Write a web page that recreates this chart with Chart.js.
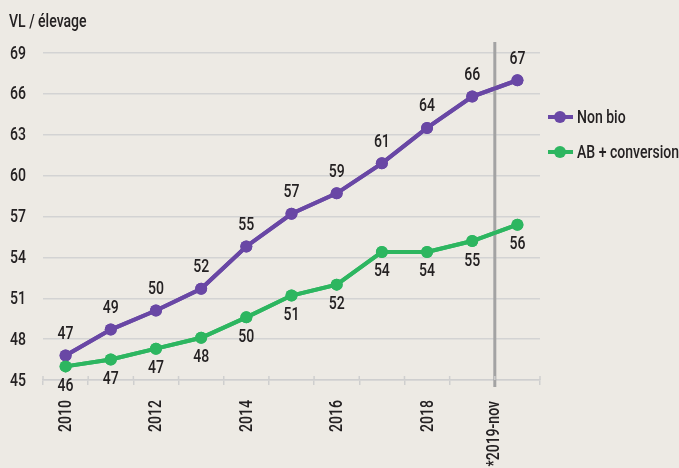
<!DOCTYPE html>
<html>
<head>
<meta charset="utf-8">
<script src="https://cdn.jsdelivr.net/npm/chart.js@4"></script>
<style>
  html, body { margin: 0; padding: 0; background: #edeae4; }
  #wrap { width: 679px; height: 468px; }
</style>
</head>
<body>
<div id="wrap"><canvas id="vlChart" width="679" height="468"></canvas></div>
<script>
// Data
const years = ['2010', '2011', '2012', '2013', '2014', '2015', '2016', '2017', '2018', '2019', '*2019-nov'];
const nonBio = [46.8, 48.7, 50.1, 51.7, 54.8, 57.2, 58.7, 60.9, 63.5, 65.8, 67.0];
const abConv = [46.0, 46.5, 47.3, 48.1, 49.6, 51.2, 52.0, 54.4, 54.4, 55.2, 56.4];
const nonBioLabels = ['47', '49', '50', '52', '55', '57', '59', '61', '64', '66', '67'];
const abConvLabels = ['46', '47', '47', '48', '50', '51', '52', '54', '54', '55', '56'];
const yTicks = [45, 48, 51, 54, 57, 60, 63, 66, 69];

const FONT = "500 18px Roboto, 'DejaVu Sans', sans-serif";
const SQUEEZE = 0.78; // no condensed face installed, so squeeze the text
const TEXT = '#242122';
const PURPLE = '#6947a5';
const GREEN = '#2db660';

// condensed-looking text
function condText(ctx, str, x, y, align, angle) {
    ctx.save();
    ctx.translate(x, y);
    if (angle) ctx.rotate(angle);
    ctx.scale(SQUEEZE, 1);
    ctx.font = FONT;
    ctx.fillStyle = TEXT;
    ctx.textAlign = align;
    ctx.textBaseline = 'middle';
    ctx.fillText(str, 0, 0);
    ctx.restore();
}

const decorPlugin = {
    id: 'decor',
    beforeDraw(chart) {
        const ctx = chart.ctx;
        ctx.save();
        ctx.fillStyle = '#edeae4';
        ctx.fillRect(0, 0, chart.width, chart.height);
        ctx.restore();
    },
    afterDatasetsDraw(chart) {
        const ctx = chart.ctx;
        const x = chart.scales.x;
        const y = chart.scales.y;
        const area = chart.chartArea;

        // vertical separator before the last category
        const sepX = (x.getPixelForValue(9) + x.getPixelForValue(10)) / 2;
        ctx.save();
        ctx.strokeStyle = '#a3a3a3';
        ctx.lineWidth = 3;
        ctx.beginPath();
        ctx.moveTo(sepX, area.top - 11);
        ctx.lineTo(sepX, area.bottom + 7);
        ctx.stroke();
        ctx.restore();

        // small ticks above the x axis line
        ctx.save();
        ctx.strokeStyle = '#cfcfcf';
        ctx.lineWidth = 1.5;
        for (let i = 0; i <= years.length; i++) {
            const px = x.getPixelForValue(i - 0.5);
            ctx.beginPath();
            ctx.moveTo(px, area.bottom - 4);
            ctx.lineTo(px, area.bottom);
            ctx.stroke();
        }
        ctx.restore();

        // redraw lines on top of the separator
        chart.getSortedVisibleDatasetMetas().forEach(m => m.controller.draw());

        // value labels
        chart.getDatasetMeta(0).data.forEach((pt, i) =>
            condText(ctx, nonBioLabels[i], pt.x, pt.y - 21, 'center'));
        chart.getDatasetMeta(1).data.forEach((pt, i) =>
            condText(ctx, abConvLabels[i], pt.x, pt.y + 20, 'center'));

        // title
        condText(ctx, 'VL / élevage', 9, 22, 'left');

        // y tick labels
        yTicks.forEach(v => condText(ctx, String(v), 26, y.getPixelForValue(v) + 1, 'right'));

        // x tick labels, rotated
        years.forEach((lab, i) => {
            if (i % 2 === 0 && i < 10) {
                condText(ctx, lab, x.getPixelForValue(i) + 1, area.bottom + 20, 'right', -Math.PI / 2);
            }
        });
        condText(ctx, years[10], sepX, area.bottom + 21, 'right', -Math.PI / 2);

        // legend
        const items = [
            { text: 'Non bio', color: PURPLE, y: 117 },
            { text: 'AB + conversion', color: GREEN, y: 152 }
        ];
        items.forEach(it => {
            ctx.save();
            ctx.strokeStyle = it.color;
            ctx.lineWidth = 4;
            ctx.beginPath();
            ctx.moveTo(548, it.y);
            ctx.lineTo(573, it.y);
            ctx.stroke();
            ctx.fillStyle = it.color;
            ctx.beginPath();
            ctx.arc(560, it.y, 6, 0, Math.PI * 2);
            ctx.fill();
            ctx.restore();
            condText(ctx, it.text, 577, it.y + 1, 'left');
        });
    }
};

new Chart(document.getElementById('vlChart').getContext('2d'), {
    type: 'line',
    data: {
        labels: years,
        datasets: [{
            label: 'Non bio',
            data: nonBio,
            borderColor: PURPLE,
            backgroundColor: PURPLE,
            borderWidth: 4,
            pointRadius: 6,
            pointBorderWidth: 0,
            tension: 0
        }, {
            label: 'AB + conversion',
            data: abConv,
            borderColor: GREEN,
            backgroundColor: GREEN,
            borderWidth: 4,
            pointRadius: 6,
            pointBorderWidth: 0,
            tension: 0
        }]
    },
    options: {
        responsive: false,
        animation: false,
        layout: { padding: { top: 53, right: 139, bottom: 0, left: 0 } },
        plugins: {
            legend: { display: false },
            tooltip: { enabled: false }
        },
        scales: {
            x: {
                offset: true,
                afterFit(scale) { scale.height = 88; },
                grid: {
                    offset: true,
                    drawOnChartArea: false,
                    color: '#cfcfcf',
                    lineWidth: 1.5,
                    tickLength: 5
                },
                border: { color: '#cfcfcf', width: 1.5 },
                ticks: { display: false, autoSkip: false }
            },
            y: {
                min: 45,
                max: 69,
                afterFit(scale) { scale.width = 43; },
                afterBuildTicks(scale) {
                    scale.ticks = yTicks.map(v => ({ value: v }));
                },
                grid: {
                    color: '#d3d3d3',
                    lineWidth: 1.5,
                    drawTicks: false
                },
                border: { display: false },
                ticks: { display: false }
            }
        }
    },
    plugins: [decorPlugin]
});
</script>
</body>
</html>
